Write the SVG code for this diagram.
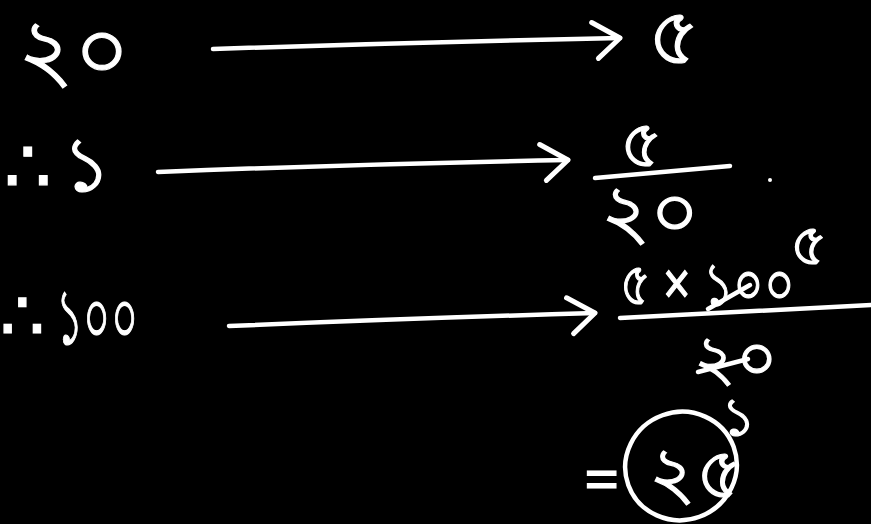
<svg xmlns="http://www.w3.org/2000/svg" width="871" height="524" viewBox="0 0 871 524">
<defs>
<style>
.t{fill:#fff;stroke:#fff;stroke-width:1.2;font-family:"Noto Sans","DejaVu Sans",sans-serif;font-weight:400}
.s{stroke:#fff;stroke-width:4.5;fill:none;stroke-linecap:round;stroke-linejoin:round}
</style>
<marker id="ah" viewBox="0 0 34 44" refX="32" refY="22" markerWidth="34" markerHeight="44" markerUnits="userSpaceOnUse" orient="auto" overflow="visible">
<path d="M4,6 L32,22 L10,42" stroke="#fff" stroke-width="5" fill="none" stroke-linecap="round" stroke-linejoin="round"/>
</marker>
</defs>
<rect width="871" height="524" fill="#000"/>
<g id="connectors">
<path class="s" d="M213,49 Q420,42 620,38" marker-end="url(#ah)"/>
<path class="s" d="M158,172 Q360,164 568,160" marker-end="url(#ah)"/>
<path class="s" d="M229,326 Q420,318 595,313" marker-end="url(#ah)"/>
</g>
<g id="n1"><text class="t" x="18" y="80" font-size="86">২০</text></g>
<g id="n2"><text class="t" x="4" y="192" font-size="74">∴</text><text class="t" x="62" y="191" font-size="76">১</text></g>
<g id="n3"><text class="t" x="0" y="340" font-size="70">∴</text><text class="t" x="56" y="344" font-size="78" textLength="82" lengthAdjust="spacingAndGlyphs">১০০</text></g>
<g id="r1"><text class="t" x="648" y="64" font-size="80">৫</text></g>
<g id="r2">
<text class="t" x="620" y="167" font-size="66">৫</text>
<path class="s" d="M595,178 L730,166"/>
<text class="t" x="601" y="238" font-size="76">২০</text>
<circle cx="770" cy="180" r="2" fill="#fff"/>
</g>
<g id="r3">
<text class="t" x="620" y="305" font-size="60" textLength="175" lengthAdjust="spacingAndGlyphs">৫ × ১০০</text>
<path class="s" d="M708,309 L750,285"/>
<text class="t" x="790" y="265" font-size="58">৫</text>
<path class="s" d="M620,318 L871,305"/>
<text class="t" x="694" y="380" font-size="64">২০</text>
<path class="s" d="M698,372 L748,359"/>
<text class="t" x="721" y="436" font-size="54">১</text>
<text class="t" x="584" y="502" font-size="62">=</text>
<ellipse class="s" cx="681" cy="466" rx="56" ry="54" transform="rotate(-20 681 466)"/>
<text class="t" x="649" y="498" font-size="72">২৫</text>
</g>
</svg>
